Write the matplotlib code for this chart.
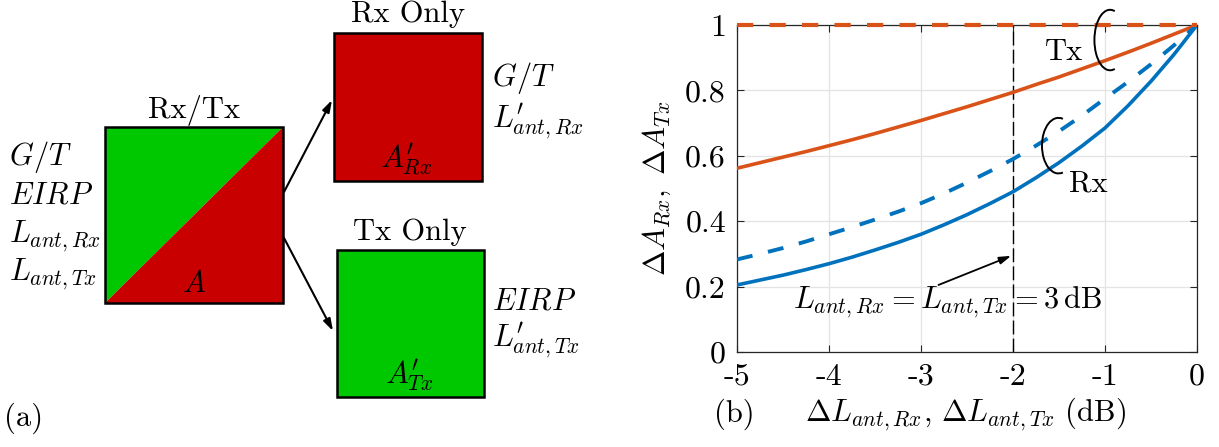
import matplotlib
matplotlib.use('Agg')
import matplotlib.pyplot as plt
from matplotlib.patches import Polygon, Rectangle, Arc

plt.rcParams['mathtext.fontset'] = 'cm'
plt.rcParams['font.family'] = ['cmr10', 'DejaVu Serif']
plt.rcParams['axes.unicode_minus'] = False
plt.rcParams['axes.formatter.use_mathtext'] = True

# ---------------- data (panel b) ----------------
dL = [-5, -4.75, -4.5, -4.25, -4, -3.75, -3.5, -3.25, -3, -2.75, -2.5, -2.25,
      -2, -1.75, -1.5, -1.25, -1, -0.75, -0.5, -0.25, 0]
rx_solid = [0.205, 0.220, 0.235, 0.252, 0.270, 0.290, 0.312, 0.335, 0.360, 0.389, 0.420, 0.454,
            0.490, 0.533, 0.579, 0.630, 0.685, 0.753, 0.828, 0.910, 1.0]
rx_dashed = [0.283, 0.300, 0.318, 0.338, 0.360, 0.382, 0.405, 0.429, 0.455, 0.485, 0.518, 0.553,
             0.590, 0.631, 0.675, 0.723, 0.775, 0.826, 0.880, 0.938, 1.0]
tx_solid = [0.562, 0.579, 0.596, 0.613, 0.631, 0.649, 0.668, 0.688, 0.708, 0.729, 0.750, 0.772,
            0.794, 0.818, 0.841, 0.866, 0.891, 0.917, 0.944, 0.972, 1.0]
tx_dashed = [1.0] * 21
xticks = [-5, -4, -3, -2, -1, 0]
xticklabels = ['-5', '-4', '-3', '-2', '-1', '0']
yticks = [0, 0.2, 0.4, 0.6, 0.8, 1.0]
yticklabels = ['0', '0.2', '0.4', '0.6', '0.8', '1']
marker_x = -2

BLUE = '#0072BD'
ORANGE = '#D95319'
GREEN = '#00C800'
RED = '#C80000'

W, H = 1219, 447
fig = plt.figure(figsize=(W / 100, H / 100), dpi=100)
FS = 22

# ---------------- panel (a): diagram in pixel coordinates ----------------
ax0 = fig.add_axes([0, 0, 700 / W, 1])
ax0.set_xlim(0, 700)
ax0.set_ylim(H, 0)
ax0.axis('off')

# big Rx/Tx square
x0, y0, x1, y1 = 105, 127, 283, 303
ax0.add_patch(Polygon([(x0, y1), (x0, y0), (x1, y0)], closed=True, fc=GREEN, ec='none'))
ax0.add_patch(Polygon([(x0, y1), (x1, y0), (x1, y1)], closed=True, fc=RED, ec='none'))
ax0.add_patch(Rectangle((x0, y0), x1 - x0, y1 - y0, fc='none', ec='black', lw=1.8))
ax0.text((x0 + x1) / 2, 111, 'Rx/Tx', fontsize=FS, ha='center', va='center')
ax0.text(194, 284, '$A$', fontsize=FS, ha='center', va='center')
for yy, s in zip([157, 196, 236, 274], ['$G/T$', '$EIRP$', '$L_{ant,Rx}$', '$L_{ant,Tx}$']):
    ax0.text(9, yy, s, fontsize=FS, ha='left', va='center')

# Rx only square
ax0.add_patch(Rectangle((334, 33), 148, 148, fc=RED, ec='black', lw=1.8))
ax0.text(408, 14, 'Rx Only', fontsize=FS, ha='center', va='center')
ax0.text(406, 160, r"$A^{\prime}_{Rx}$", fontsize=FS, ha='center', va='center')
ax0.text(492, 78, '$G/T$', fontsize=FS, ha='left', va='center')
ax0.text(492, 122, r"$L^{\prime}_{ant,Rx}$", fontsize=FS, ha='left', va='center')

# Tx only square
ax0.add_patch(Rectangle((337, 250), 147, 147, fc=GREEN, ec='black', lw=1.8))
ax0.text(410, 232, 'Tx Only', fontsize=FS, ha='center', va='center')
ax0.text(409, 376, r"$A^{\prime}_{Tx}$", fontsize=FS, ha='center', va='center')
ax0.text(492, 302, '$EIRP$', fontsize=FS, ha='left', va='center')
ax0.text(492, 341, r"$L^{\prime}_{ant,Tx}$", fontsize=FS, ha='left', va='center')

# arrows
ax0.annotate('', xy=(332, 100), xytext=(284, 192),
             arrowprops=dict(arrowstyle='-|>,head_length=0.7,head_width=0.22', color='black', lw=1.5,
                             shrinkA=0, shrinkB=0))
ax0.annotate('', xy=(333, 331), xytext=(284, 238),
             arrowprops=dict(arrowstyle='-|>,head_length=0.7,head_width=0.22', color='black', lw=1.5,
                             shrinkA=0, shrinkB=0))
ax0.text(4, 418, '(a)', fontsize=FS, ha='left', va='center')

# ---------------- panel (b) ----------------
ax = fig.add_axes([737 / W, (H - 352) / H, 460 / W, 327 / H])
ax.set_xlim(-5, 0)
ax.set_ylim(0, 1)

ax.grid(True, color='#e3e3e3', lw=0.9)
ax.set_axisbelow(True)

ax.plot([marker_x, marker_x], [0, 1], color='black', lw=1.0, dashes=(10, 3), zorder=2)
ax.plot(dL, tx_solid, color=ORANGE, lw=2.6, zorder=3)
ax.plot(dL, rx_solid, color=BLUE, lw=2.6, zorder=3)
ax.plot(dL, rx_dashed, color=BLUE, lw=2.8, dashes=(4.1, 4.1), zorder=3)
ax.plot(dL, tx_dashed, color=ORANGE, lw=3.0, dashes=(3.9, 3.9), zorder=4, clip_on=False)

ax.set_xticks(xticks)
ax.set_xticklabels(xticklabels)
ax.set_yticks(yticks)
ax.set_yticklabels(yticklabels)
ax.tick_params(direction='in', length=5, width=0.8, top=True, right=True,
               labelsize=FS + 1, pad=8, colors='#262626', labelcolor='black')
for sp in ax.spines.values():
    sp.set_color('#262626')
    sp.set_linewidth(0.9)

# brackets (ellipse arcs) and labels
ax.add_patch(Arc((-0.945, 0.954), 0.34, 0.185, theta1=60, theta2=300, color='black', lw=1.4, clip_on=False, zorder=5))
ax.add_patch(Arc((-1.505, 0.631), 0.36, 0.17, theta1=60, theta2=300, color='black', lw=1.4, clip_on=False, zorder=5))
ax.text(-1.446, 0.917, 'Tx', fontsize=FS, ha='center', va='center', zorder=6)
ax.text(-1.185, 0.514, 'Rx', fontsize=FS, ha='center', va='center', zorder=6)

ax.text(-2.707, 0.150, r'$L_{ant,Rx} = L_{ant,Tx} = 3\,\mathrm{dB}$', fontsize=FS,
        ha='center', va='center', zorder=6)
ax.annotate('', xy=(-2.02, 0.294), xytext=(-2.81, 0.205),
            arrowprops=dict(arrowstyle='-|>,head_length=0.7,head_width=0.22', color='black', lw=1.3,
                            shrinkA=0, shrinkB=0), zorder=6)

fig.text(657 / W, 1 - 188 / H, r'$\Delta A_{Rx},\ \Delta A_{Tx}$', fontsize=FS,
         rotation=90, ha='center', va='center')
fig.text(966 / W, 1 - 414 / H, r'$\Delta L_{ant,Rx},\, \Delta L_{ant,Tx}\ \mathrm{(dB)}$', fontsize=FS,
         ha='center', va='center')
fig.text(734 / W, 1 - 414 / H, '(b)', fontsize=FS, ha='center', va='center')

fig.savefig('out.png', dpi=100)
